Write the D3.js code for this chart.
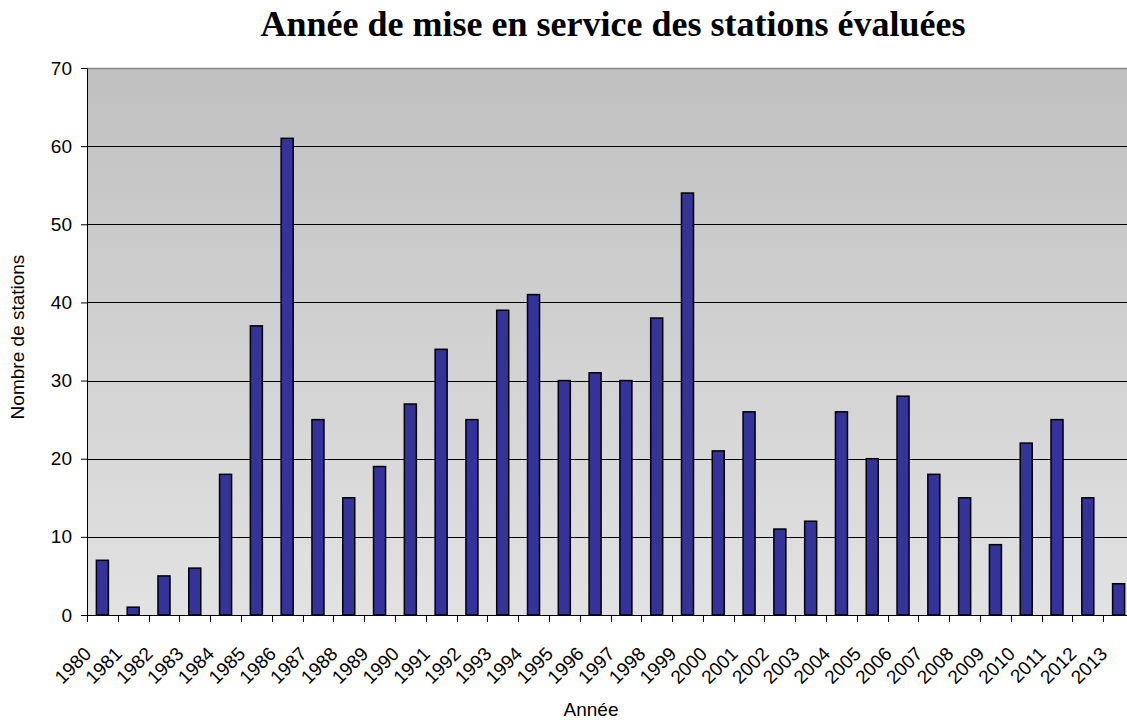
<!DOCTYPE html>
<html>
<head>
<meta charset="utf-8">
<script src="https://cdn.jsdelivr.net/npm/d3@7"></script>
<style>
  body { margin: 0; background: #fff; }
  svg { display: block; }
</style>
</head>
<body>
<svg id="chart" width="1127" height="723"></svg>
<script>
const years = ["1980","1981","1982","1983","1984","1985","1986","1987","1988","1989",
  "1990","1991","1992","1993","1994","1995","1996","1997","1998","1999",
  "2000","2001","2002","2003","2004","2005","2006","2007","2008","2009",
  "2010","2011","2012","2013"]
const stations = [7, 1, 5, 6, 18, 37, 61, 25, 15, 19,
  27, 34, 25, 39, 41, 30, 31, 30, 38, 54,
  21, 26, 11, 12, 26, 20, 28, 18, 15, 9,
  22, 25, 15, 4]
const yTicks = [0, 10, 20, 30, 40, 50, 60, 70]

const title = "Année de mise en service des stations évaluées"
const xTitle = "Année"
const yTitle = "Nombre de stations"

const svg = d3.select("#chart")
const margin = { left: 87, top: 68, right: -7, bottom: 108 }
const width = 1127, height = 723

const x = d3.scaleBand()
  .domain(years)
  .range([margin.left, width - margin.right])
  .paddingInner(0.61)
  .paddingOuter(0.305)

const y = d3.scaleLinear()
  .domain([0, 70])
  .range([height - margin.bottom, margin.top])

// gradient background of the plot area
const grad = svg.append("defs").append("linearGradient")
  .attr("id", "bg").attr("x1", 0).attr("y1", 0).attr("x2", 0).attr("y2", 1)
grad.append("stop").attr("offset", "0%").attr("stop-color", "#c0c0c0")
grad.append("stop").attr("offset", "100%").attr("stop-color", "#e2e2e2")

svg.append("rect")
  .attr("x", margin.left)
  .attr("y", y(70))
  .attr("width", width - margin.right - margin.left)
  .attr("height", y(0) - y(70))
  .attr("fill", "url(#bg)")

// gridlines
svg.append("g")
  .selectAll("line")
  .data(yTicks.filter(d => d > 0 && d < 70))
  .join("line")
  .attr("x1", margin.left)
  .attr("x2", width - margin.right)
  .attr("y1", d => Math.round(y(d)) + 0.5)
  .attr("y2", d => Math.round(y(d)) + 0.5)
  .attr("stroke", "#000")
  .attr("stroke-width", 1)

svg.append("line")
  .attr("x1", margin.left).attr("x2", width - margin.right)
  .attr("y1", Math.round(y(70)) + 0.5).attr("y2", Math.round(y(70)) + 0.5)
  .attr("stroke", "#888")
  .attr("stroke-width", 1.5)

// bars
svg.append("g")
  .selectAll("rect")
  .data(stations)
  .join("rect")
  .attr("x", (d, i) => x(years[i]))
  .attr("y", d => y(d))
  .attr("width", x.bandwidth())
  .attr("height", d => y(0) - y(d))
  .attr("fill", "#333399")
  .attr("stroke", "#000")
  .attr("stroke-width", 1.5)

// y axis
const yAxis = g => g
  .attr("transform", `translate(${margin.left},0)`)
  .call(d3.axisLeft(y).tickValues(yTicks).tickSize(6).tickPadding(9).tickSizeOuter(0))
  .call(g => g.selectAll("text")
    .attr("font-family", "Liberation Sans, Arial, sans-serif")
    .attr("font-size", 19)
    .attr("fill", "#000"))
  .call(g => g.selectAll("line,path").attr("stroke", "#000"))

svg.append("g").call(yAxis)

// x axis: ticks at category boundaries
const step = x.step()
const xStart = margin.left
svg.append("line")
  .attr("x1", margin.left).attr("x2", width - margin.right)
  .attr("y1", y(0) + 0.5).attr("y2", y(0) + 0.5)
  .attr("stroke", "#000")

svg.append("g")
  .selectAll("line")
  .data(years)
  .join("line")
  .attr("x1", (d, i) => Math.round(xStart + i * step) + 0.5)
  .attr("x2", (d, i) => Math.round(xStart + i * step) + 0.5)
  .attr("y1", y(0))
  .attr("y2", y(0) + 7)
  .attr("stroke", "#000")

svg.append("g")
  .selectAll("text")
  .data(years)
  .join("text")
  .attr("transform", d => `translate(${x(d) + x.bandwidth() / 2 - 10},${y(0) + 40}) rotate(-45)`)
  .attr("text-anchor", "end")
  .attr("font-family", "Liberation Sans, Arial, sans-serif")
  .attr("font-size", 19)
  .attr("fill", "#000")
  .text(d => d)

// titles
svg.append("text")
  .attr("x", 613)
  .attr("y", 36)
  .attr("text-anchor", "middle")
  .attr("font-family", "Liberation Serif, Times New Roman, serif")
  .attr("font-weight", "bold")
  .attr("font-size", 36)
  .text(title)

svg.append("text")
  .attr("x", 591)
  .attr("y", 716)
  .attr("text-anchor", "middle")
  .attr("font-family", "Liberation Sans, Arial, sans-serif")
  .attr("font-size", 19)
  .text(xTitle)

svg.append("text")
  .attr("transform", `translate(24,337) rotate(-90)`)
  .attr("text-anchor", "middle")
  .attr("font-family", "Liberation Sans, Arial, sans-serif")
  .attr("font-size", 19)
  .text(yTitle)
</script>
</body>
</html>
